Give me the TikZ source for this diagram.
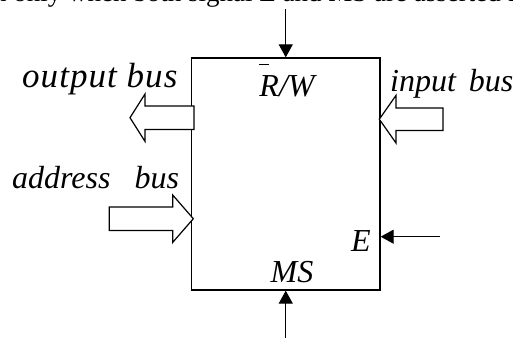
\documentclass[tikz,border=0pt]{standalone}
\usepackage{fontspec}
\setmainfont{Liberation Serif}
\usetikzlibrary{arrows.meta}
\begin{document}
\begin{tikzpicture}[x=1pt,y=-1pt,
  lbl/.style={font=\fontsize{32}{38}\selectfont\itshape, inner sep=0pt},
  sig/.style={line width=1.2pt, -{Triangle[length=13pt,width=14pt]}},
  bus/.style={draw, line width=1.2pt, fill=white, line join=miter},
  blk/.style={draw, line width=1.3pt, minimum width=188.5pt, minimum height=232pt, inner sep=0pt}]
\useasboundingbox (0,0) rectangle (513,338);
\begin{scope}
\clip (0,0) rectangle (513,338);
\node[anchor=base west, inner sep=0pt, font=\fontsize{27}{32}\selectfont] (hdr) at (-7,1.5) {n only when both signal E and MS are asserted f};
\end{scope}
\node[blk] (box) at (285.75,174) {};
% control signals
\coordinate (rwin) at (285.75,9);
\draw[sig] (rwin) -- (box.north);
\coordinate (msin) at (285.75,338);
\draw[sig] (msin) -- (box.south);
\coordinate (ein) at (440,236.7);
\draw[sig] (ein) -- (ein -| box.east);
% buses
\draw[bus] (130,117.7) -- (145,94) -- (145,106) -- (194,106) -- (194,129.4) -- (145,129.4) -- (145,141.4) -- cycle;
\draw[bus] (379.3,119.2) -- (396,95.4) -- (396,108) -- (443,108) -- (443,130.4) -- (396,130.4) -- (396,143) -- cycle;
\draw[bus] (109.3,207) -- (172.7,207) -- (172.7,195) -- (193.3,218.7) -- (172.7,242.4) -- (172.7,230.4) -- (109.3,230.4) -- cycle;
% labels
\node[lbl, anchor=base west] (outl) at (22,87) {\fontsize{35}{40}\selectfont\addfontfeature{LetterSpace=3}output bus};
\node[lbl, anchor=base west] (addrl) at (12,188) {address\hspace{24pt}bus};
\node[lbl, anchor=base west] (inl) at (390,91.7) {input\hspace{13pt}bus};
\node[lbl, anchor=base] (rwl) at (287,96.7) {\rlap{\rule[32pt]{10pt}{1pt}}R/W};
\node[lbl, anchor=base] (el) at (361,251.7) {E};
\node[lbl, anchor=base] (msl) at (292,282) {MS};
\end{tikzpicture}
\end{document}
